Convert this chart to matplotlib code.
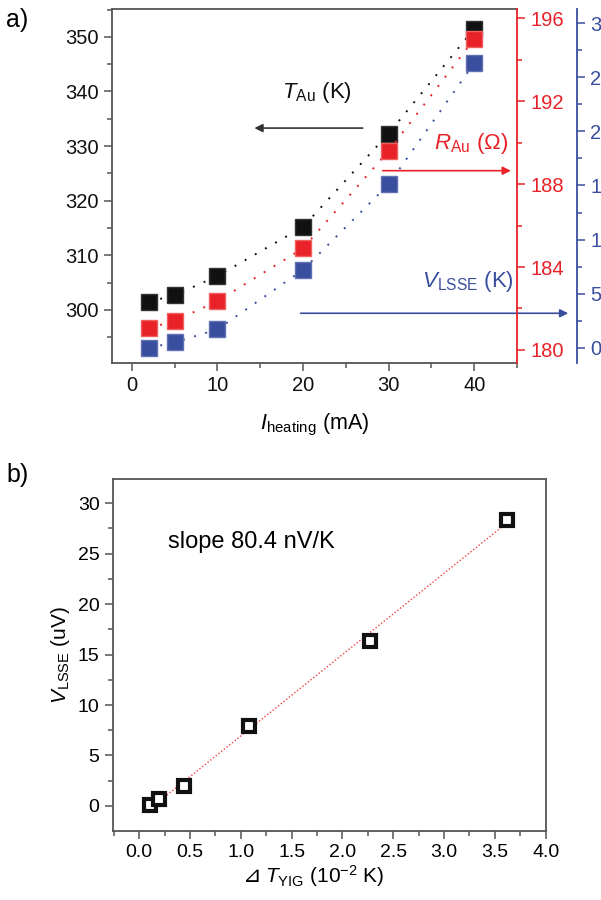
import numpy as np
import matplotlib
matplotlib.use('Agg')
import matplotlib.pyplot as plt
from matplotlib.ticker import MultipleLocator, FuncFormatter

plt.rcParams['font.family'] = ['Liberation Sans', 'DejaVu Sans']
plt.rcParams['mathtext.fontset'] = 'custom'
plt.rcParams['mathtext.rm'] = 'Liberation Sans'
plt.rcParams['mathtext.it'] = 'Liberation Sans:italic'

# panel a data
current = [2, 5, 10, 20, 30, 40]
t_au = [301.5, 302.7, 306.2, 315.2, 332.3, 351.5]
r_au = [181.05, 181.4, 182.35, 184.9, 189.6, 195.0]
v_lsse_a = [0.0, 0.5, 1.7, 7.2, 15.1, 26.3]

# panel b data
dt_yig = [0.11, 0.20, 0.44, 1.08, 2.27, 3.62]
v_lsse = [0.1, 0.7, 2.0, 7.9, 16.3, 28.3]
fit_x = [0.14, 3.60]
fit_y = [0.0, 27.9]

black = '#111111'
red = '#e82228'
blue = '#3a4e9f'
frame = '#555555'

fig = plt.figure(figsize=(6.01, 9.0), dpi=100)

# ---------- panel a ----------
ax = fig.add_axes([0.1864, 0.5967, 0.6739, 0.3933])
ax_r = ax.twinx()
ax_b = ax.twinx()
ax_b.spines['right'].set_position(('axes', 1.148))

ms = 11
ax.plot(current, t_au, ls=(0, (1, 5)), lw=1.4, color=black, marker='s', ms=ms,
        mec='#333333', mfc=black, clip_on=False)
ax_r.plot(current, r_au, ls=(0, (1, 5)), lw=1.4, color=red, marker='s', ms=ms,
          mec='#f06060', mfc=red, clip_on=False)
ax_b.plot(current, v_lsse_a, ls=(0, (1, 5)), lw=1.4, color=blue, marker='s', ms=ms,
          mec='#6070b0', mfc=blue, clip_on=False)

ax.set_xlim(-2.3, 45)
ax.set_ylim(290.3, 355.1)
ax_r.set_ylim(179.37, 196.45)
ax_b.set_ylim(-1.4, 31.3)

ax.xaxis.set_major_locator(MultipleLocator(10))
ax.xaxis.set_minor_locator(MultipleLocator(5))
ax.yaxis.set_major_locator(MultipleLocator(10))
ax.yaxis.set_minor_locator(MultipleLocator(5))
ax_r.yaxis.set_major_locator(MultipleLocator(4))
ax_r.yaxis.set_minor_locator(MultipleLocator(2))
ax_b.yaxis.set_major_locator(MultipleLocator(5))
ax_b.yaxis.set_minor_locator(MultipleLocator(2.5))

for s in ['left', 'bottom', 'top']:
    ax.spines[s].set_color(frame)
    ax.spines[s].set_linewidth(1.3)
ax.spines['right'].set_visible(False)
for s in ['left', 'top', 'bottom']:
    ax_r.spines[s].set_visible(False)
    ax_b.spines[s].set_visible(False)
ax_r.spines['right'].set_color(red)
ax_r.spines['right'].set_linewidth(1.3)
ax_b.spines['right'].set_color(blue)
ax_b.spines['right'].set_linewidth(1.3)

for a, c, lc in [(ax, frame, black), (ax_r, red, red), (ax_b, blue, blue)]:
    a.tick_params(which='both', direction='out', color=c, labelcolor=lc, labelsize=14.5, width=1.1)
    a.tick_params(which='major', length=6)
    a.tick_params(which='minor', length=3.5)

ax.set_xlabel(r'$\it{I}$$_{\rm heating}$ (mA)', fontsize=15.5, labelpad=12)

# annotation arrows and labels
ax.annotate('', xy=(14.0, 333.3), xytext=(27.3, 333.3),
            arrowprops=dict(arrowstyle='-|>', color='#333333', lw=1.2, mutation_scale=12))
ax.text(21.6, 339.9, r'$\it{T}$$_{\rm Au}$ (K)', fontsize=16, color=black, ha='center', va='center')
ax.annotate('', xy=(44.6, 325.5), xytext=(29.0, 325.5),
            arrowprops=dict(arrowstyle='-|>', color=red, lw=1.2, mutation_scale=12),
            annotation_clip=False)
ax.text(39.6, 330.5, r'$\it{R}$$_{\rm Au}$ ($\Omega$)', fontsize=16, color=red, ha='center', va='center')
ax.annotate('', xy=(51.3, 299.4), xytext=(19.4, 299.4),
            arrowprops=dict(arrowstyle='-|>', color=blue, lw=1.2, mutation_scale=12),
            annotation_clip=False)
ax.text(39.3, 305.2, r'$\it{V}$$_{\rm LSSE}$ (K)', fontsize=16, color=blue, ha='center', va='center')

fig.text(0.01, 0.978, 'a)', fontsize=18, va='center')

# ---------- panel b ----------
bx = fig.add_axes([0.1875, 0.0767, 0.7205, 0.3911])
bx.plot(fit_x, fit_y, ls=(0, (1, 1.5)), lw=1.0, color='#f04040')
bx.plot(dt_yig, v_lsse, ls='none', marker='s', ms=9.3, mfc='white', mec=black, mew=3.0)

bx.set_xlim(-0.26, 4.0)
bx.set_ylim(-2.48, 32.4)
bx.xaxis.set_major_locator(MultipleLocator(0.5))
bx.xaxis.set_minor_locator(MultipleLocator(0.25))
bx.yaxis.set_major_locator(MultipleLocator(5))
bx.yaxis.set_minor_locator(MultipleLocator(2.5))
bx.xaxis.set_major_formatter(FuncFormatter(lambda v, p: f'{v:.1f}'))

for s in bx.spines.values():
    s.set_color(frame)
    s.set_linewidth(1.3)
bx.tick_params(which='both', direction='out', color=frame, labelsize=14, width=1.1)
bx.tick_params(which='major', length=6)
bx.tick_params(which='minor', length=3.5)

bx.set_ylabel(r'$\it{V}$$_{\rm LSSE}$ (uV)', fontsize=15, labelpad=4)
fig.text(265 / 601, 1 - 876 / 900, r'$\it{T}$$_{\rm YIG}$ (10$^{-2}$ K)', fontsize=15,
         ha='left', va='center')
fig.text(262 / 601, 1 - 876 / 900, '\u22bf', fontsize=16, style='italic',
         family='DejaVu Sans', ha='right', va='center')
bx.text(1.10, 26.2, 'slope 80.4 nV/K', fontsize=17, ha='center', va='center')

fig.text(0.01, 0.472, 'b)', fontsize=18, va='center')

fig.savefig('out.png', dpi=100)
